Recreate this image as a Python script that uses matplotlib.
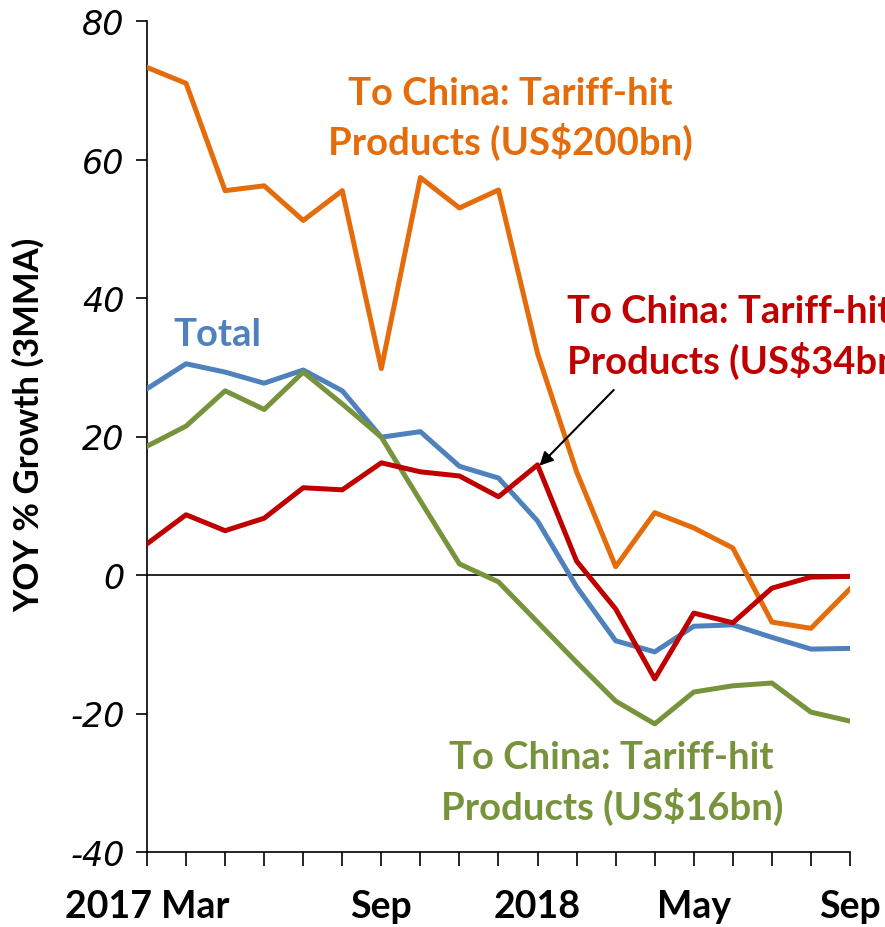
import matplotlib
matplotlib.use("Agg")
import matplotlib.pyplot as plt
import numpy as np

# monthly points, Mar 2017 .. Sep 2018
months = ['2017 Mar', 'Apr', 'May', 'Jun', 'Jul', 'Aug', 'Sep', 'Oct', 'Nov', 'Dec',
          '2018', 'Feb', 'Mar', 'Apr', 'May', 'Jun', 'Jul', 'Aug', 'Sep']
shown_idx = [0, 6, 10, 14, 18]

total = [26.9, 30.5, 29.3, 27.7, 29.6, 26.6, 19.9, 20.7, 15.7, 14.0,
         7.8, -1.7, -9.5, -11.1, -7.4, -7.2, -9.0, -10.7, -10.6]
china_200bn = [73.3, 71.0, 55.5, 56.2, 51.2, 55.5, 29.8, 57.4, 53.0, 55.6,
               32.0, 14.9, 1.2, 9.0, 6.8, 3.9, -6.8, -7.7, -2.0]
china_16bn = [18.6, 21.5, 26.6, 23.9, 29.3, 24.7, 19.9, 10.7, 1.6, -1.0,
              -6.8, -12.6, -18.2, -21.5, -16.9, -16.0, -15.6, -19.8, -21.1]
china_34bn = [4.5, 8.7, 6.4, 8.2, 12.6, 12.3, 16.2, 14.9, 14.3, 11.3,
              15.9, 2.0, -4.9, -15.0, -5.5, -6.9, -1.9, -0.3, -0.2]

c_total = '#4F81BD'
c_200 = '#E46C0A'
c_16 = '#77933C'
c_34 = '#C00000'

lab_font = ['Lato', 'DejaVu Sans']

fig = plt.figure(figsize=(8.85, 9.28), dpi=100)
ax = fig.add_axes([147/885, 75/928, 703/885, 831/928])

x = np.arange(len(months))
lw = 3.6
ax.plot(x, total, color=c_total, lw=lw, zorder=3)
ax.plot(x, china_200bn, color=c_200, lw=lw, zorder=4)
ax.plot(x, china_16bn, color=c_16, lw=lw, zorder=5)
ax.plot(x, china_34bn, color=c_34, lw=lw, zorder=6)
ax.axhline(0, color='black', lw=1.2, zorder=2)

ax.set_xlim(0, len(months) - 1)
ax.set_ylim(-40, 80)
ax.set_yticks(np.arange(-40, 81, 20))
ax.set_yticklabels([str(v) for v in range(-40, 81, 20)],
                   fontsize=24, style='italic', family='DejaVu Sans')
ax.set_xticks(x)
ax.set_xticklabels([months[i] if i in shown_idx else '' for i in x],
                   fontsize=27, fontweight='bold', family=lab_font)
ax.tick_params(axis='y', length=8, width=1.2, pad=8)
ax.tick_params(axis='x', length=10, width=1.2, pad=17)

for s in ['top', 'right']:
    ax.spines[s].set_visible(False)
for s in ['left', 'bottom']:
    ax.spines[s].set_linewidth(1.2)

ax.set_ylabel('YOY % Growth (3MMA)', fontsize=25, fontweight='bold',
              family=lab_font)
ax.yaxis.set_label_coords(-0.145, 0.515)

txt = dict(fontsize=27.5, fontweight='bold', family=lab_font, ha='center', va='center',
           linespacing=1.4, clip_on=False)
ax.text(9.3, 66.0, 'To China: Tariff-hit\nProducts (US$200bn)', color=c_200, **txt)
ax.text(1.8, 34.8, 'Total', color=c_total, **txt)
ax.text(10.75, 34.4, 'To China: Tariff-hit\nProducts (US$34bn)', color=c_34,
        **{**txt, 'ha': 'left'})
ax.text(11.9, -30.0, 'To China: Tariff-hit\nProducts (US$16bn)', color=c_16, **txt)

ax.annotate('', xy=(10.0, 15.5), xytext=(12.0, 27.0),
            arrowprops=dict(arrowstyle='-|>', color='black', lw=1.5,
                            mutation_scale=20), zorder=7)

fig.savefig('out.png', dpi=100)
